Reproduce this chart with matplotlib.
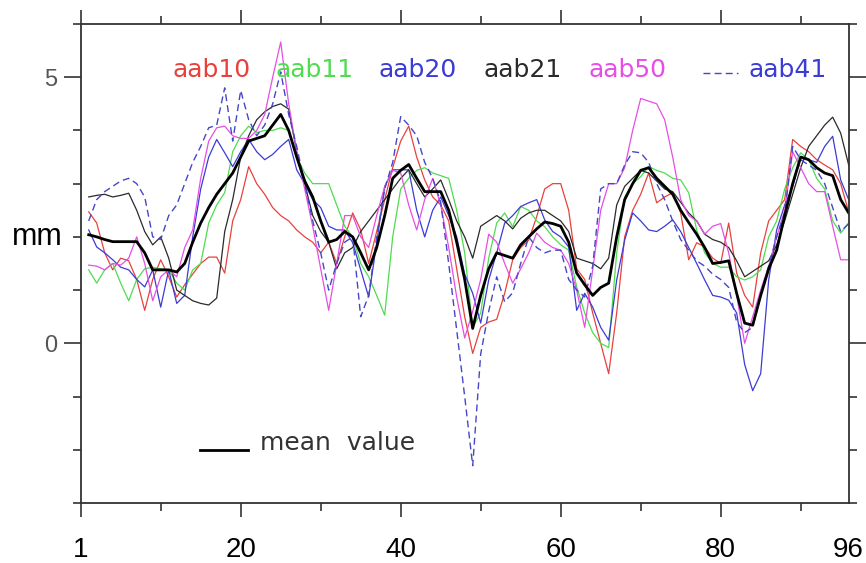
import numpy as np
import matplotlib.pyplot as plt
from matplotlib.ticker import FixedLocator

x = np.arange(1, 97)

aab10 = [2.47, 2.26, 1.7, 1.38, 1.6, 1.55, 1.2, 0.62, 1.2, 1.57,
         1.25, 0.87, 1.1, 1.3, 1.5, 1.62, 1.62, 1.32, 2.3, 2.7,
         3.32, 3.0, 2.8, 2.55, 2.4, 2.3, 2.13, 2.0, 1.9, 1.7,
         1.9, 1.5, 2.0, 2.45, 2.13, 1.5, 2.1, 2.7, 3.3, 3.8,
         4.08, 3.5, 3.07, 2.75, 2.6, 2.3, 1.4, 0.5, -0.19, 0.3,
         0.4, 0.45, 0.94, 1.57, 1.8, 1.94, 2.38, 2.9, 3.0, 3.0,
         2.5, 1.4, 1.2, 0.57, 0.0, -0.57, 0.57, 2.0, 2.5, 2.8,
         3.2, 2.64, 2.75, 2.83, 2.45, 1.57, 1.89, 1.81, 1.6, 1.5,
         2.26, 1.32, 0.9, 0.68, 1.7, 2.3, 2.5, 2.7, 3.83, 3.7,
         3.6, 3.45, 3.35, 3.26, 3.0, 2.47]

aab11 = [1.38, 1.13, 1.38, 1.5, 1.13, 0.8, 1.2, 1.4, 1.43, 1.4,
         1.38, 1.13, 1.0, 1.38, 1.5, 2.26, 2.6, 2.83, 3.6, 3.9,
         4.08, 3.96, 4.0, 4.0, 4.05, 4.0, 3.5, 3.2, 3.0, 3.0,
         3.0, 2.6, 2.2, 2.0, 1.5, 1.25, 0.9, 0.53, 2.0, 2.9,
         3.1, 3.25, 3.3, 3.2, 3.15, 3.1, 2.5, 1.7, 0.3, 0.57,
         1.6, 2.26, 2.45, 2.19, 2.57, 2.5, 2.3, 2.19, 2.0, 1.85,
         1.75, 1.06, 0.57, 0.2, 0.0, -0.08, 1.7, 2.75, 3.0, 3.13,
         3.32, 3.25, 3.2, 3.1, 3.07, 2.83, 2.13, 1.7, 1.5, 1.43,
         1.43, 1.25, 1.19, 1.25, 1.38, 2.0, 2.3, 2.9, 3.3, 3.58,
         3.45, 3.1, 2.9, 2.3, 2.07, 2.26]

aab20 = [2.13, 1.81, 1.7, 1.57, 1.43, 1.38, 1.2, 1.06, 1.38, 0.68,
         1.38, 0.75, 0.9, 2.0, 2.9, 3.5, 3.83, 3.58, 3.32, 3.6,
         3.83, 3.6, 3.45, 3.55, 3.7, 3.83, 3.26, 3.0, 2.7, 2.55,
         2.2, 2.13, 2.13, 1.89, 1.38, 0.87, 1.89, 2.94, 3.26, 3.26,
         3.26, 2.5, 2.0, 2.5, 2.75, 2.4, 2.0, 1.3, 0.94, 0.38,
         1.19, 1.7, 2.26, 2.4, 2.57, 2.64, 2.7, 2.32, 2.1, 2.0,
         1.81, 0.62, 0.94, 0.68, 0.3, 0.06, 1.19, 1.94, 2.45, 2.3,
         2.13, 2.1, 2.2, 2.32, 2.1, 1.8, 1.5, 1.19, 0.9, 0.87,
         0.81, 0.57, -0.4, -0.89, -0.57, 1.19, 2.13, 2.6, 2.94, 3.5,
         3.45, 3.4, 3.7, 3.89, 3.07, 2.7]

aab21 = [2.75, 2.78, 2.8, 2.75, 2.78, 2.82, 2.5, 2.1, 1.85, 2.0,
         1.6, 1.0, 0.9, 0.8, 0.75, 0.72, 0.85, 2.1, 2.7, 3.5,
         3.9, 4.2, 4.35, 4.45, 4.5, 4.4, 3.6, 3.0, 2.4, 2.1,
         1.9, 1.4, 1.7, 1.8, 2.1, 2.3, 2.5, 2.7, 2.9, 3.1,
         3.26, 3.0, 2.75, 2.9, 3.07, 2.7, 2.3, 2.0, 1.6, 2.2,
         2.3, 2.4, 2.3, 2.15, 2.35, 2.45, 2.5, 2.5, 2.4, 2.3,
         2.1, 1.6, 1.55, 1.5, 1.4, 1.6, 2.6, 2.95, 3.1, 3.25,
         3.2, 3.05, 2.9, 2.85, 2.65, 2.45, 2.3, 2.05, 1.95, 1.9,
         1.8, 1.55, 1.25, 1.35, 1.45, 1.55, 1.85, 2.3, 2.8, 3.3,
         3.7, 3.9, 4.1, 4.25, 3.95, 3.35]

aab50 = [1.47, 1.45, 1.38, 1.5, 1.47, 1.6, 2.0, 1.5, 0.8, 1.25,
         1.38, 1.25, 1.8, 2.13, 3.1, 3.8, 4.05, 4.08, 3.9, 3.85,
         3.85, 4.0, 4.3, 5.0, 5.66, 4.5, 3.6, 2.9, 2.2, 1.4,
         0.62, 1.5, 2.4, 2.4, 2.0, 1.8, 2.4, 2.95, 3.25, 3.2,
         2.6, 2.13, 2.7, 3.1, 2.6, 1.8, 0.87, 0.1, 0.6, 1.2,
         2.05, 1.9, 1.5, 1.13, 1.4, 1.7, 2.07, 1.9, 1.8, 1.75,
         1.5, 1.0, 0.3, 1.38, 2.5, 3.0, 3.0, 3.3, 4.0, 4.6,
         4.55, 4.5, 4.2, 3.5, 2.7, 2.4, 2.3, 2.05, 2.2, 2.25,
         1.7, 0.9, 0.0, 0.5, 1.0, 1.45, 2.0, 2.5, 3.6, 3.3,
         3.0, 2.85, 2.85, 2.2, 1.57, 1.57]

aab41 = [2.3, 2.7, 2.85, 2.95, 3.05, 3.1, 3.0, 2.75, 2.0, 1.95,
         2.4, 2.6, 3.0, 3.4, 3.7, 4.05, 4.1, 4.8, 3.8, 4.75,
         4.2, 3.9, 4.1, 4.5, 5.1, 4.3, 3.7, 3.0, 2.3, 1.7,
         1.0, 1.5, 1.9, 2.0, 0.5, 0.9, 2.0, 2.9, 3.4, 4.26,
         4.1, 3.9, 3.4, 3.1, 2.65, 1.5, 0.25, -1.0, -2.3, -0.2,
         0.6, 1.25, 0.78, 0.95, 1.5, 2.0, 1.8, 1.7, 1.75, 1.75,
         1.2, 1.0, 0.87, 1.45, 2.9, 3.0, 3.0, 3.35, 3.6, 3.58,
         3.4, 3.0, 2.7, 2.3, 1.95, 1.75, 1.55, 1.45, 1.3, 1.2,
         1.05, 0.4, 0.2, 0.3, 0.9, 1.45, 2.0, 2.45, 3.7, 3.45,
         3.35, 3.25, 3.0, 2.55, 2.1, 2.25]

mean_value = [2.04, 2.0, 1.95, 1.91, 1.91, 1.91, 1.91, 1.7, 1.38, 1.38,
              1.38, 1.34, 1.5, 1.9, 2.26, 2.55, 2.8, 3.0, 3.2, 3.5,
              3.8, 3.85, 3.9, 4.1, 4.3, 4.0, 3.5, 3.05, 2.75, 2.3,
              1.9, 1.95, 2.1, 2.0, 1.7, 1.38, 1.8, 2.4, 3.1, 3.25,
              3.36, 3.1, 2.85, 2.85, 2.85, 2.5, 1.9, 1.2, 0.28, 0.9,
              1.4, 1.7, 1.65, 1.6, 1.85, 2.0, 2.15, 2.28, 2.25, 2.2,
              1.9, 1.32, 1.1, 0.9, 1.05, 1.13, 2.0, 2.7, 3.0, 3.25,
              3.3, 3.1, 2.95, 2.8, 2.5, 2.27, 2.05, 1.8, 1.5, 1.52,
              1.55, 0.94, 0.38, 0.34, 0.9, 1.4, 1.75, 2.4, 3.0, 3.5,
              3.45, 3.3, 3.2, 3.15, 2.7, 2.45]

names = ['aab10', 'aab11', 'aab20', 'aab21', 'aab50']
colors = ['#e8413c', '#4fdc4f', '#3b3bd6', '#2a2a2a', '#e64ee6']
series = [aab10, aab11, aab20, aab21, aab50]
name_x = [0.119, 0.254, 0.388, 0.524, 0.661]

xlabels = ['1', '20', '40', '60', '80', '96']
xlabel_pos = [0, 20, 40, 60, 80, 95.9]

fig = plt.figure(figsize=(8.66, 5.63), dpi=100)
ax = fig.add_axes([0.0932, 0.1066, 0.8868, 0.8508])

for s, c in zip(series, colors):
    ax.plot(x, s, color=c, lw=0.9)
ax.plot(x, aab41, color='#4646c8', lw=1.0, ls=(0, (5, 3)))
ax.plot(x, mean_value, color='black', lw=2.0)

ax.set_xlim(0, 96)
ax.set_ylim(-3, 6)

for sp in ax.spines.values():
    sp.set_color('#333333')
    sp.set_linewidth(1.3)

ax.xaxis.set_major_locator(FixedLocator([0, 20, 40, 60, 80]))
ax.xaxis.set_minor_locator(FixedLocator([10, 30, 50, 70, 90]))
ax.yaxis.set_major_locator(FixedLocator([0, 5]))
ax.yaxis.set_minor_locator(FixedLocator([-3, -2, -1, 1, 2, 3, 4, 6]))
ax.tick_params(which='both', direction='out', top=True, right=True,
               color='#333333', width=1.2)
ax.tick_params(axis='x', which='major', length=10, labelbottom=False)
ax.tick_params(axis='y', which='major', length=12, labelsize=17,
               labelcolor='#555555', pad=5)
ax.tick_params(which='minor', length=6)
ax.set_yticklabels(['0', '5'], family='Liberation Sans')

for lab, p in zip(xlabels, xlabel_pos):
    ax.text(p, -0.113, lab, transform=ax.get_xaxis_transform(),
            ha='center', va='baseline', fontsize=20, family='Liberation Sans')
ax.text(-0.023, 2, 'mm', transform=ax.get_yaxis_transform(),
        ha='right', va='center', fontsize=22, family='Liberation Sans')

# legend drawn as coloured texts along the top
for n, c, px in zip(names, colors, name_x):
    ax.text(px, 0.904, n, transform=ax.transAxes, color=c,
            fontsize=18, va='center', ha='left', family='DejaVu Sans')
ax.plot([0.810, 0.856], [0.898, 0.898], transform=ax.transAxes,
        color='#4646c8', lw=1.0, ls=(0, (5, 3)), clip_on=False)
ax.text(0.869, 0.904, 'aab41', transform=ax.transAxes, color='#3b3bd6',
        fontsize=18, va='center', ha='left', family='DejaVu Sans')

ax.plot([0.155, 0.218], [0.111, 0.111], transform=ax.transAxes,
        color='black', lw=2.0)
ax.text(0.233, 0.125, 'mean  value', transform=ax.transAxes, color='#333333',
        fontsize=18, va='center', ha='left', family='DejaVu Sans')

fig.savefig('out.png', dpi=100)
